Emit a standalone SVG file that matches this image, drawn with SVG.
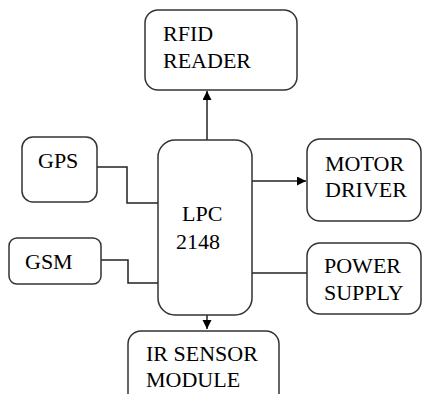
<svg xmlns="http://www.w3.org/2000/svg" width="422" height="394" viewBox="0 0 422 394">
<defs>
<style>
.box{fill:#fff;stroke:#333;stroke-width:1.5}
.t{font-family:"Liberation Serif","Times New Roman",serif;font-size:22px;fill:#000}
.c{fill:none;stroke:#222;stroke-width:1.5}
</style>
<marker id="ah" markerWidth="10" markerHeight="10" refX="9" refY="4.5" orient="auto" markerUnits="userSpaceOnUse">
<path d="M0,0 L9,4.5 L0,9 Z" fill="#000"/>
</marker>
</defs>
<rect width="422" height="394" fill="#fff"/>
<g id="connectors">
<path class="c" d="M207,143 V91" marker-end="url(#ah)"/>
<path class="c" d="M97,167 H127 V203 H158"/>
<path class="c" d="M101,260 H128 V283 H158"/>
<path class="c" d="M252,181 H306" marker-end="url(#ah)"/>
<path class="c" d="M252,273 H307"/>
<path class="c" d="M207,302 V329" marker-end="url(#ah)"/>
</g>
<g id="rfid">
<rect class="box" x="145" y="10" width="152" height="80" rx="13"/>
<text class="t" x="163" y="41">RFID</text>
<text class="t" x="163" y="68">READER</text>
</g>
<g id="gps">
<rect class="box" x="22" y="137" width="75" height="65" rx="11"/>
<text class="t" x="38" y="168">GPS</text>
</g>
<g id="lpc">
<rect class="box" x="158" y="140" width="94" height="175" rx="17"/>
<text class="t" x="182" y="221">LPC</text>
<text class="t" x="176" y="249">2148</text>
</g>
<g id="motor">
<rect class="box" x="307" y="139" width="114" height="82" rx="13"/>
<text class="t" x="325" y="171">MOTOR</text>
<text class="t" x="325" y="197">DRIVER</text>
</g>
<g id="gsm">
<rect class="box" x="9" y="238" width="92" height="46" rx="8"/>
<text class="t" x="25" y="269">GSM</text>
</g>
<g id="power">
<rect class="box" x="307" y="243" width="114" height="71" rx="13"/>
<text class="t" x="324" y="273">POWER</text>
<text class="t" x="324" y="300">SUPPLY</text>
</g>
<g id="ir">
<rect class="box" x="128" y="331" width="151" height="80" rx="13"/>
<text class="t" x="146" y="361">IR SENSOR</text>
<text class="t" x="146" y="387">MODULE</text>
</g>
</svg>
